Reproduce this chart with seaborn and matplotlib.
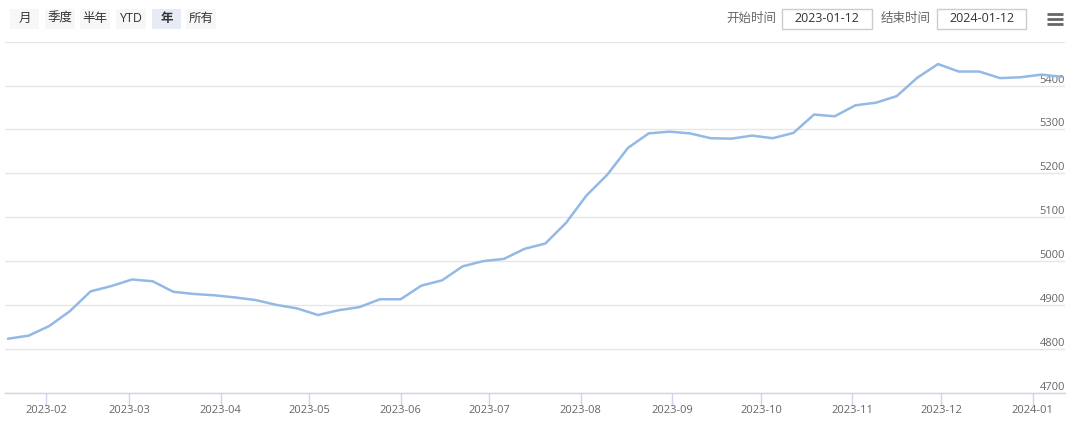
import numpy as np
import pandas as pd
import matplotlib
matplotlib.use("Agg")
import matplotlib.pyplot as plt
import matplotlib.dates as mdates
from matplotlib.patches import Rectangle
import seaborn as sns

# weekly prices (Thu, UTC) 2023-01-19 .. 2024-01-11
week_start = "2023-01-19"
price = [4823, 4830, 4852, 4886, 4931, 4943, 4958, 4954, 4930, 4925,
         4922, 4917, 4911, 4900, 4892, 4877, 4888, 4895, 4913, 4913,
         4944, 4956, 4988, 5000, 5005, 5028, 5040, 5087, 5150, 5197,
         5258, 5291, 5295, 5291, 5280, 5279, 5286, 5280, 5292, 5334,
         5330, 5355, 5361, 5376, 5418, 5449, 5432, 5432, 5417, 5419,
         5425, 5420]
y_ticks = [4700, 4800, 4900, 5000, 5100, 5200, 5300, 5400, 5500]

range_buttons = ["月", "季度", "半年", "YTD", "年", "所有"]
selected_button = "年"
start_label = "开始时间"
end_label = "结束时间"
start_date = "2023-01-12"
end_date = "2024-01-12"

dates = pd.date_range(week_start, periods=len(price), freq="7D")
df = pd.DataFrame({"date": dates, "price": price})

sns.set_style("white")
plt.rcParams["font.family"] = ["Open Sans", "Noto Sans CJK SC", "DejaVu Sans"]

W, H = 1080, 421
fig = plt.figure(figsize=(W / 100, H / 100), dpi=100)

# plot area in pixels
left, right, top, bottom = 5, 1065, 41.7, 392.7
ax = fig.add_axes([left / W, 1 - bottom / H, (right - left) / W, (bottom - top) / H])

sns.lineplot(data=df, x="date", y="price", ax=ax, color="#93b9e5", linewidth=1.8)

ax.set_xlim(dates[0] - pd.Timedelta(days=1), dates[-1] + pd.Timedelta(days=1))
ax.set_ylim(y_ticks[0], y_ticks[-1])
ax.set_xlabel("")
ax.set_ylabel("")

# grid
ax.set_yticks(y_ticks)
ax.set_yticklabels([str(v) if v != y_ticks[-1] else "" for v in y_ticks])
ax.grid(axis="y", color="#e6e6e6", linewidth=1)
ax.grid(axis="x", visible=False)
ax.yaxis.tick_right()
ax.tick_params(axis="y", length=0, pad=0, labelsize=8, labelcolor="#666666")
for lab in ax.get_yticklabels():
    lab.set_ha("right")
    lab.set_va("bottom")

for s in ["top", "left", "right"]:
    ax.spines[s].set_visible(False)
ax.spines["bottom"].set_color("#ccd6eb")
ax.spines["bottom"].set_linewidth(1)

ax.xaxis.set_major_locator(mdates.MonthLocator())
ax.xaxis.set_major_formatter(mdates.DateFormatter("%Y-%m"))
ax.tick_params(axis="x", direction="out", length=9, width=1, color="#ccd6eb",
               pad=0, labelsize=8, labelcolor="#666666", bottom=True)


def px_rect(x0, y0, x1, y1, **kw):
    fig.patches.append(Rectangle((x0 / W, 1 - y1 / H), (x1 - x0) / W, (y1 - y0) / H,
                                 transform=fig.transFigure, figure=fig, **kw))


def px_text(x, y, s, **kw):
    fig.text(x / W, 1 - y / H, s, ha="center", va="center", **kw)


# range selector buttons
btn_x = [(10, 39), (45, 75), (80, 110), (116, 146), (152, 181), (186, 216)]
for name, (x0, x1) in zip(range_buttons, btn_x):
    sel = name == selected_button
    px_rect(x0, 9, x1, 29, facecolor="#e6ebf5" if sel else "#f7f7f7", edgecolor="none")
    px_text((x0 + x1) / 2, 18.5, name, fontsize=9, color="#333333",
            fontweight="bold" if sel else "normal")

# date inputs
px_text(751.5, 18.5, start_label, fontsize=9, color="#666666")
px_rect(782, 9, 872, 29, facecolor="white", edgecolor="#cccccc", linewidth=1)
px_text(827, 18.5, start_date, fontsize=9, color="#333333")
px_text(906, 18.5, end_label, fontsize=9, color="#666666")
px_rect(937, 9, 1026, 29, facecolor="white", edgecolor="#cccccc", linewidth=1)
px_text(981.5, 18.5, end_date, fontsize=9, color="#333333")

# menu icon
for yy in (13.5, 18.5, 23.5):
    fig.add_artist(plt.Line2D([1047 / W, 1063 / W], [1 - yy / H, 1 - yy / H],
                              transform=fig.transFigure, color="#666666", linewidth=2.0,
                              solid_capstyle="butt"))

fig.savefig("out.png", dpi=100, facecolor="white")
